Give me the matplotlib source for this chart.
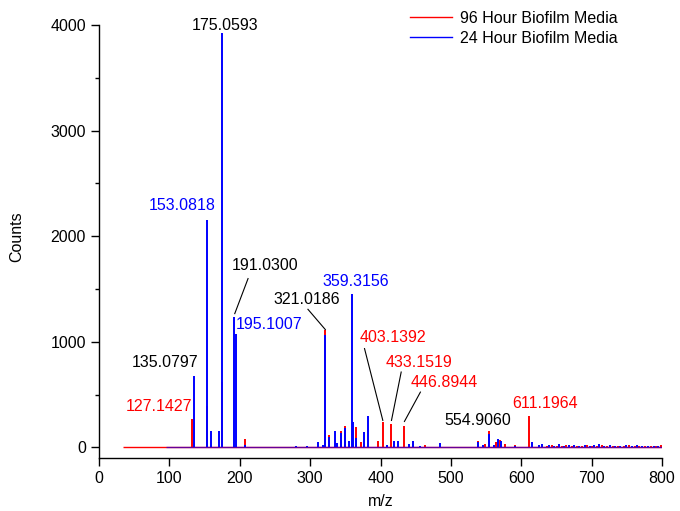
import matplotlib
matplotlib.use("Agg")
import matplotlib.pyplot as plt
from matplotlib.ticker import MultipleLocator

plt.rcParams['font.family'] = ['Liberation Sans', 'DejaVu Sans']

# ---------------- data ----------------
series_names = ["96 Hour Biofilm Media", "24 Hour Biofilm Media"]

red_range = [34, 800]
red_mz = [131.9, 153.4, 175.4, 206.8, 321.5, 327.2, 343.9, 349.3, 365.0, 373.0,
          396.0, 403.3, 415.6, 433.0, 446.6, 463.0, 538.5, 549.0, 554.8, 564.0,
          570.0, 577.0, 591.0, 611.2,
          636, 643, 651, 658, 664, 672, 679, 686, 693, 700, 708, 715, 722, 730,
          738, 746, 753, 761, 768, 776, 784, 792, 798]
red_counts = [272, 395, 616, 82, 1108, 120, 152, 200, 193, 47,
              63, 242, 218, 202, 63, 22, 63, 32, 160, 47,
              72, 32, 25, 298,
              15, 22, 18, 12, 20, 15, 18, 10, 22, 16, 12, 20, 14, 18,
              10, 16, 20, 12, 15, 10, 18, 14, 20]

blue_range = [95, 800]
blue_mz = [135.7, 152.9, 159.4, 170.2, 175.1, 191.5, 195.3, 207.0, 279.4, 295.5,
           311.0, 318.0, 321.3, 327.0, 335.7, 338.0, 343.7, 349.0, 355.0, 359.3,
           360.8, 365.2, 376.4, 381.6, 409.0, 419.4, 425.5, 441.0, 446.4, 456.0,
           484.7, 538.3, 546.0, 554.6, 561.7, 567.0, 571.0, 591.3, 614.7, 630.0,
           625, 640, 647, 654, 661, 668, 675, 682, 690, 697, 704, 711, 718, 726,
           733, 741, 749, 757, 764, 772, 780, 788, 795]
blue_counts = [680, 2152, 158, 158, 3925, 1238, 1077, 25, 15, 12,
               47, 25, 1065, 98, 158, 41, 136, 188, 64, 1457,
               237, 88, 145, 300, 25, 63, 63, 32, 57, 15,
               38, 50, 19, 125, 25, 82, 57, 18, 47, 32,
               20, 25, 18, 28, 15, 22, 20, 12, 25, 18, 22, 28, 15, 20,
               12, 18, 22, 15, 20, 12, 18, 14, 16]

# peak annotations: text, colour
ann_texts = ["175.0593", "153.0818", "191.0300", "195.1007", "359.3156", "321.0186",
             "135.0797", "127.1427", "403.1392", "433.1519", "446.8944", "554.9060",
             "611.1964"]
ann_colors = ["black", "blue", "black", "blue", "blue", "black",
              "black", "red", "red", "red", "red", "black", "red"]

x_ticks = [0, 100, 200, 300, 400, 500, 600, 700, 800]
y_ticks = [0, 1000, 2000, 3000, 4000]

# ---------------- layout ----------------
fig = plt.figure(figsize=(6.8, 5.11), dpi=100)
ax = fig.add_axes([99 / 680, 1 - 458 / 511, 563 / 680, 433 / 511])

RED = "#ff0000"
BLUE = "#0000ff"

ax.hlines(0, red_range[0], red_range[1], color=RED, lw=1.0, zorder=2)
ax.vlines(red_mz, 0, red_counts, color=RED, lw=1.4, zorder=2)
ax.hlines(0, blue_range[0], blue_range[1], color=BLUE, lw=1.0, alpha=0.6, zorder=3)
ax.vlines(blue_mz, 0, blue_counts, color=BLUE, lw=1.4, zorder=3)

ax.set_xlim(0, 800)
ax.set_ylim(-100, 4000)
ax.set_xticks(x_ticks)
ax.set_yticks(y_ticks)
ax.yaxis.set_minor_locator(MultipleLocator(500))
for s in ["top", "right"]:
    ax.spines[s].set_visible(False)
for s in ["left", "bottom"]:
    ax.spines[s].set_linewidth(1.0)
ax.tick_params(axis="both", which="major", direction="out", length=6, width=1.0,
               labelsize=11.5, pad=3.5)
ax.tick_params(axis="y", which="minor", direction="out", length=3, width=1.0)

fig.text(381 / 680, 1 - 501 / 511, "m/z", ha="center", va="center", fontsize=11.5)
fig.text(17 / 680, 1 - 237 / 511, "Counts", ha="center", va="center",
         rotation=90, fontsize=11.5)

# annotation placements (data coords) : (x, y, ha)
ann_pos = [(178.7, 4000, "center"), (166.0, 2294, "right"), (235.5, 1725, "center"),
           (194.3, 1166, "left"), (317.3, 1567, "left"), (295.0, 1400, "center"),
           (93.2, 808, "center"), (85.1, 389, "center"), (417.0, 1043, "center"),
           (454.0, 808, "center"), (490.8, 619, "center"), (537.6, 251, "center"),
           (634.0, 420, "center")]
for t, c, (x, y, ha) in zip(ann_texts, ann_colors, ann_pos):
    ax.text(x, y, t, color=c, ha=ha, va="center", fontsize=11.5, clip_on=False)

# leader lines for annotations
leaders = [((211.8, 1599), (192.9, 1267)),
           ((296.9, 1308), (321.6, 1116)),
           ((377.3, 936), (403.3, 256)),
           ((429.4, 714), (415.6, 256)),
           ((456.7, 524), (434.0, 246))]
for (x0, y0), (x1, y1) in leaders:
    ax.plot([x0, x1], [y0, y1], color="black", lw=0.8, zorder=4)

# legend
h1, = ax.plot([], [], color=RED, lw=1.0)
h2, = ax.plot([], [], color=BLUE, lw=1.0)
fig.legend([h1, h2], series_names, loc="upper left",
           bbox_to_anchor=(410 / 680, 1 - 11 / 511), frameon=False, fontsize=11.5,
           handlelength=2.6, handletextpad=0.55, labelspacing=0.3,
           borderpad=0, borderaxespad=0)

fig.savefig("out.png", dpi=100)
